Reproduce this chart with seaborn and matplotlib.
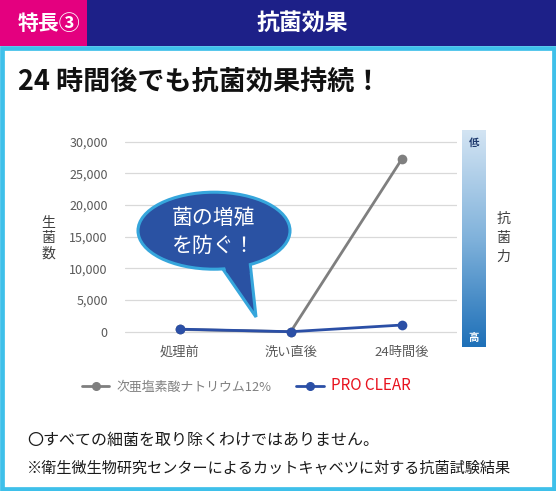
import numpy as np
import pandas as pd
import seaborn as sns
import matplotlib.pyplot as plt
from matplotlib.patches import Rectangle, Ellipse, Polygon
from matplotlib.lines import Line2D
from matplotlib.colors import LinearSegmentedColormap
from matplotlib.ticker import FuncFormatter

# chart data
categories = ['処理前', '洗い直後', '24時間後']
series_names = ['次亜塩素酸ナトリウム12%', 'PRO CLEAR']
hypochlorite = [350, 0, 27200]
pro_clear = [400, 0, 1050]
y_ticks = [0, 5000, 10000, 15000, 20000, 25000, 30000]

gray = '#7f7f7f'
blue = '#2b4fa6'
pink = '#e4007f'
navy = '#1d2088'
sky = '#3ec0ea'

sns.set_theme(style='white')
plt.rcParams['font.family'] = ['Noto Sans CJK JP', 'DejaVu Sans']

W, H = 556, 491
fig = plt.figure(figsize=(W / 100, H / 100), dpi=100)
fig.patch.set_facecolor('white')

# main chart axes (pixel layout -> figure fractions)
left, right, top, bottom = 124.5, 457, 135.4, 341.2
ax = fig.add_axes([left / W, 1 - bottom / H, (right - left) / W, (bottom - top) / H])

df = pd.DataFrame({
    '工程': categories * 2,
    '生菌数': hypochlorite + pro_clear,
    '系列': [s for s in series_names for _ in categories],
})
sns.lineplot(data=df, x='工程', y='生菌数', hue='系列', hue_order=series_names,
             palette=[gray, blue], marker='o', markersize=7, markeredgewidth=0,
             linewidth=2, sort=False, legend=False, ax=ax)
for ln in ax.lines:
    ln.set_clip_on(False)

ax.set_xlim(-0.5, 2.5)
ax.set_ylim(-1500, 31000)
ax.set_yticks(y_ticks)
ax.yaxis.set_major_formatter(FuncFormatter(lambda v, p: f'{int(v):,}'))
ax.grid(axis='y', color='#d9d9d9', linewidth=0.9)
ax.grid(axis='x', visible=False)
for s in ax.spines.values():
    s.set_visible(False)
ax.tick_params(axis='y', length=0, pad=12, labelsize=9, labelcolor='#595959')
ax.tick_params(axis='x', length=0, pad=3.5, labelsize=9.5, labelcolor='#595959')
ax.set_xlabel('')
ax.set_ylabel('')

# gradient bar for antibacterial strength
cax = fig.add_axes([462 / W, 1 - 347 / H, 24 / W, 217 / H])
cmap = LinearSegmentedColormap.from_list('abx', ['#d3e4f3', '#80b2db', '#1e70b8'])
cax.imshow(np.linspace(0, 1, 256).reshape(-1, 1), aspect='auto', cmap=cmap)
cax.axis('off')
cax.text(0.5, 0.94, '低', transform=cax.transAxes, ha='center', va='center',
         fontsize=7.5, fontweight='bold', color='#1f3a6e')
cax.text(0.5, 0.04, '高', transform=cax.transAxes, ha='center', va='center',
         fontsize=7.5, fontweight='bold', color='white')

# overlay in pixel coordinates for decorations
ov = fig.add_axes([0, 0, 1, 1], zorder=5)
ov.set_xlim(0, W)
ov.set_ylim(H, 0)
ov.axis('off')
ov.patch.set_visible(False)

ov.add_patch(Rectangle((0, 0), 87, 46, facecolor=pink, edgecolor='none'))
ov.add_patch(Rectangle((87, 0), W - 87, 46, facecolor=navy, edgecolor='none'))
ov.add_patch(Rectangle((2.25, 48.25), W - 4.5, 440.5, fill=False, edgecolor=sky, linewidth=3.4))
ov.text(18, 23.5, '特長③', color='white', fontsize=15, fontweight='bold', va='center')
ov.text(302.5, 23.5, '抗菌効果', color='white', fontsize=16.5, fontweight='bold',
        ha='center', va='center')

ov.text(18, 82, '24 時間後でも抗菌効果持続！', color='#111111', fontsize=19.5,
        fontweight='bold', va='center')

# speech bubble
fill = '#2a52a3'
edge = '#36a6dc'
ov.add_patch(Polygon([(218, 262), (250, 262), (256, 317)], closed=True,
                     facecolor=fill, edgecolor=edge, linewidth=2.2, zorder=1))
ov.add_patch(Ellipse((214, 230.7), 152, 77, facecolor=fill, edgecolor=edge,
                     linewidth=2.2, zorder=2))
ov.add_patch(Polygon([(221, 255), (248, 255), (249.5, 273), (227, 273)], closed=True,
                     facecolor=fill, edgecolor='none', zorder=3))
ov.text(214, 232, '菌の増殖\nを防ぐ！', color='white', fontsize=15, ha='center',
        va='center', linespacing=1.4, zorder=4)

ov.text(48, 238, '生\n菌\n数', color='#404040', fontsize=10, ha='center', va='center',
        linespacing=1.1)
ov.text(503.5, 237.5, '抗\n菌\n力', color='#404040', fontsize=10, ha='center',
        va='center', linespacing=1.45)

# legend
handles = [Line2D([], [], color=gray, marker='o', linewidth=2, markersize=5.5),
           Line2D([], [], color=blue, marker='o', linewidth=2, markersize=5.5)]
leg = ov.legend(handles, series_names, loc='center left', bbox_to_anchor=(82, 386),
                bbox_transform=ov.transData, ncol=2, frameon=False, fontsize=9.3,
                handlelength=2.1, handletextpad=0.6, columnspacing=1.9,
                borderpad=0, borderaxespad=0)
leg.get_texts()[0].set_color('#808080')
leg.get_texts()[1].set_color('#e8121e')
leg.get_texts()[1].set_fontsize(11)

ov.text(27, 440, '〇すべての細菌を取り除くわけではありません。', color='#1a1a1a',
        fontsize=11.5, va='center')
ov.text(27, 468, '※衛生微生物研究センターによるカットキャベツに対する抗菌試験結果',
        color='#1a1a1a', fontsize=10.9, va='center')

fig.savefig('out.png', dpi=100)
plt.close(fig)
